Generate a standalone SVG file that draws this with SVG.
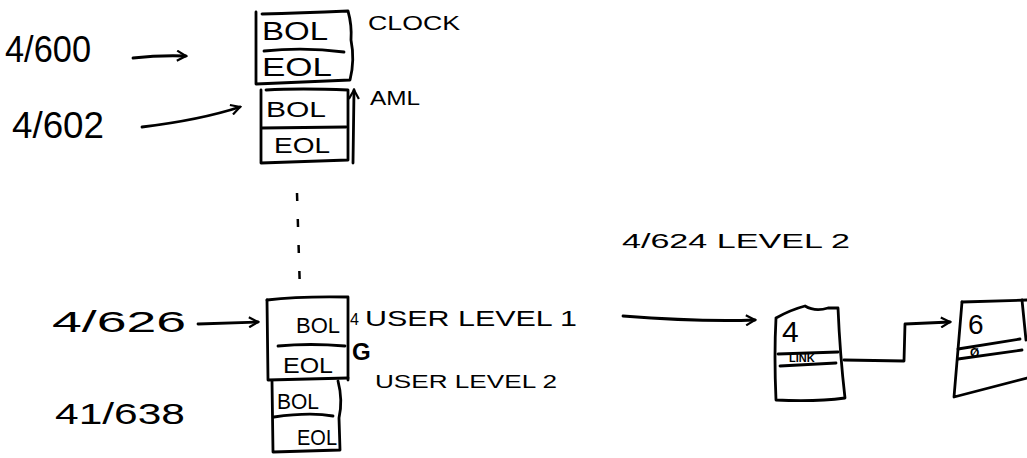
<svg xmlns="http://www.w3.org/2000/svg" width="1027" height="458" viewBox="0 0 1027 458">
<defs>
<style>
.s{fill:none;stroke:#000;stroke-width:2.8;stroke-linecap:round;stroke-linejoin:round}
.t{font-family:"Liberation Sans",Arial,sans-serif;fill:#000}
.d{fill:none;stroke:#000;stroke-width:2.5;stroke-dasharray:8 18}
</style>
<marker id="oh" viewBox="0 0 12 12" refX="10" refY="6" markerWidth="12" markerHeight="12" markerUnits="userSpaceOnUse" orient="auto">
<path d="M1,1 L10,6 L1,11" fill="none" stroke="#000" stroke-width="2.2"/>
</marker>
</defs>
<rect width="1027" height="458" fill="#fff"/>

<g id="label-4600"><text class="t" x="5" y="62" font-size="36" textLength="86" lengthAdjust="spacingAndGlyphs">4/600</text></g>
<g id="label-4602"><text class="t" x="12" y="138" font-size="36" textLength="92" lengthAdjust="spacingAndGlyphs">4/602</text></g>

<g id="clock-node">
<path class="s" d="M256,12 L256,84 Q300,82 350,80 Q355,60 351,40 Q352,25 348,11 Q300,13 262,14"/>
<path class="s" d="M264,51 Q305,47 344,52"/>
<text class="t" x="262" y="40" font-size="25" textLength="66" lengthAdjust="spacingAndGlyphs">BOL</text>
<text class="t" x="262" y="76" font-size="25" textLength="70" lengthAdjust="spacingAndGlyphs">EOL</text>
<text class="t" x="368" y="30" font-size="20" textLength="92" lengthAdjust="spacingAndGlyphs">CLOCK</text>
</g>

<g id="aml-node">
<path class="s" d="M261,90 L261,163 L348,160 L348,90 Q300,88 266,90"/>
<path class="s" d="M262,128 L346,127"/>
<text class="t" x="266" y="117" font-size="22" textLength="60" lengthAdjust="spacingAndGlyphs">BOL</text>
<text class="t" x="274" y="153" font-size="22" textLength="56" lengthAdjust="spacingAndGlyphs">EOL</text>
<text class="t" x="370" y="105" font-size="20" textLength="50" lengthAdjust="spacingAndGlyphs">AML</text>
</g>

<g id="label-4626"><text class="t" x="52" y="332" font-size="30" textLength="134" lengthAdjust="spacingAndGlyphs">4/626</text></g>
<g id="label-4638"><text class="t" x="55" y="424" font-size="30" textLength="130" lengthAdjust="spacingAndGlyphs">41/638</text></g>

<g id="user-stack">
<path class="s" d="M267,300 Q300,296 348,297 L348,380"/>
<path class="s" d="M267,300 L268,380 L348,378"/>
<path class="s" d="M278,346 Q310,343 345,346"/>
<path class="s" d="M272,381 L273,452 L340,450 L339,418 Q343,400 338,381"/>
<path class="s" d="M274,417 Q310,412 333,416"/>
<text class="t" x="296" y="333" font-size="22" textLength="44" lengthAdjust="spacingAndGlyphs">BOL</text>
<text class="t" x="283" y="373" font-size="22" textLength="50" lengthAdjust="spacingAndGlyphs">EOL</text>
<text class="t" x="277" y="409" font-size="22" textLength="42" lengthAdjust="spacingAndGlyphs">BOL</text>
<text class="t" x="297" y="445" font-size="22" textLength="40" lengthAdjust="spacingAndGlyphs">EOL</text>
<text class="t" x="350" y="325" font-size="16">4</text>
<text class="t" x="352" y="360" font-size="24" font-weight="bold">G</text>
<text class="t" x="365" y="326" font-size="22" textLength="212" lengthAdjust="spacingAndGlyphs">USER LEVEL 1</text>
<text class="t" x="375" y="388" font-size="18" textLength="182" lengthAdjust="spacingAndGlyphs">USER LEVEL 2</text>
</g>

<g id="label-4624"><text class="t" x="622" y="248" font-size="20" textLength="228" lengthAdjust="spacingAndGlyphs">4/624 LEVEL 2</text></g>

<g id="node-4">
<path class="s" d="M776,318 Q790,310 805,306 Q815,312 828,308 L838,308 Q840,355 845,398 Q815,402 776,400 Q774,355 776,318"/>
<path class="s" d="M778,354 L838,352"/>
<path class="s" d="M780,366 L836,363"/>
<text class="t" x="782" y="342" font-size="30">4</text>
<text class="t" x="789" y="362" font-size="11" font-weight="bold">LINK</text>
</g>

<g id="node-6">
<path class="s" d="M962,302 L1027,300"/>
<path class="s" d="M962,302 L954,397 L1027,378"/>
<path class="s" d="M1022,300 L1026,340"/>
<path class="s" d="M958,349 L1020,339"/>
<path class="s" d="M958,359 L1022,350"/>
<text class="t" x="968" y="334" font-size="28">6</text>
<text class="t" x="970" y="357" font-size="12" font-weight="bold">Ø</text>
</g>

<g id="connectors">
<path class="s" d="M133,58 Q160,55 186,56" marker-end="url(#oh)"/>
<path class="s" d="M142,127 Q200,120 240,107" marker-end="url(#oh)"/>
<path class="s" d="M353,163 L354,90" marker-end="url(#oh)"/>
<path class="d" d="M297,193 L300,292"/>
<path class="s" d="M198,324 L258,322" marker-end="url(#oh)"/>
<path class="s" d="M623,316 Q700,322 755,320" marker-end="url(#oh)"/>
<path class="s" d="M844,360 L904,361 L905,324 L950,322" marker-end="url(#oh)"/>
</g>
</svg>
